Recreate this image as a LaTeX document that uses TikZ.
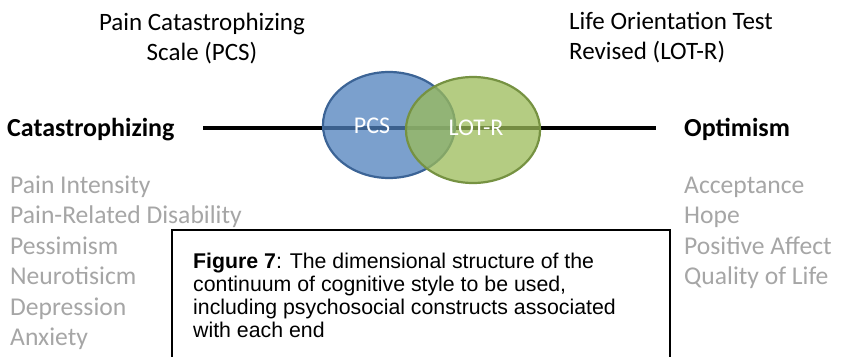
\documentclass[tikz,border=0pt]{standalone}
\usepackage{fontspec}
\setmainfont{Carlito}
\newfontfamily\capfont{Liberation Sans}
\usetikzlibrary{shapes.geometric}
\definecolor{pcsfill}{RGB}{79,129,189}
\definecolor{pcsline}{RGB}{60,100,150}
\definecolor{lotfill}{RGB}{155,187,89}
\definecolor{lotline}{RGB}{118,146,66}
\definecolor{listgray}{RGB}{166,166,166}
\begin{document}
\begin{tikzpicture}[x=1pt,y=-1pt,
  titletext/.style={font=\fontsize{25}{30}\selectfont, inner sep=0pt, text=black},
  endlabel/.style={font=\fontsize{26}{30}\selectfont\bfseries, inner sep=0pt, anchor=base west},
  listitem/.style={font=\fontsize{25.6}{30}\selectfont, inner sep=0pt, anchor=base west, text=listgray},
  venn/.style={ellipse, inner sep=0pt, line width=2.2pt, fill opacity=0.75},
  venntext/.style={font=\fontsize{24}{28}\selectfont, text=white, inner sep=0pt, anchor=base},
  axis/.style={line width=3.5pt, black},
  capbox/.style={line width=1.4pt, black},
  captext/.style={font=\capfont\fontsize{21.3}{23}\selectfont, inner sep=0pt, anchor=north west, align=left}]
\useasboundingbox (0,0) rectangle (842,356);
\clip (0,0) rectangle (842,356);
\fill[white] (0,0) rectangle (842,356);

% titles
\node[titletext, anchor=north, align=center] (pcsname) at (202,12.8) {Pain Catastrophizing\\Scale (PCS)};
\node[titletext, anchor=north west, align=left] (lotname) at (569,12.5) {Life Orientation Test\\Revised (LOT-R)};

% end labels
\node[endlabel] (cat) at (7,136) {Catastrophizing};
\node[endlabel] (opt) at (684,136) {Optimism};

% axis line
\coordinate (axisleft) at (203,128);
\coordinate (axisright) at (656,128);
\draw[axis] (axisleft) -- (axisright);

% venn ellipses
\node[venn, draw=pcsline, fill=pcsfill, minimum width=132pt, minimum height=106pt] (pcs) at (389,125) {};
\node[venn, draw=lotline, fill=lotfill, minimum width=134pt, minimum height=106pt] (lot) at (473,130) {};
\node[venntext] (pcslbl) at (372,133) {PCS};
\node[venntext] (lotlbl) at (476,135) {LOT-R};

% left list
\node[listitem] (l1) at (10,193) {Pain Intensity};
\node[listitem] (l2) at (10,223.5) {Pain-Related Disability};
\node[listitem] (l3) at (10,254) {Pessimism};
\node[listitem] (l4) at (10,284.5) {Neurotisicm};
\node[listitem] (l5) at (10,315) {Depression};
\node[listitem] (l6) at (10,345.5) {Anxiety};

% right list
\node[listitem] (r1) at (684,193) {Acceptance};
\node[listitem] (r2) at (684,223.5) {Hope};
\node[listitem] (r3) at (684,254) {Positive Affect};
\node[listitem] (r4) at (684,284.5) {Quality of Life};

% caption box
\coordinate (boxtl) at (172,230);
\coordinate (boxbr) at (670,380);
\draw[capbox] (boxtl) rectangle (boxbr);
\node[captext] (caption) at (193,252.5) {\textbf{Figure 7}: The dimensional structure of the\\continuum of cognitive style to be used,\\including psychosocial constructs associated\\with each end};
\end{tikzpicture}
\end{document}
